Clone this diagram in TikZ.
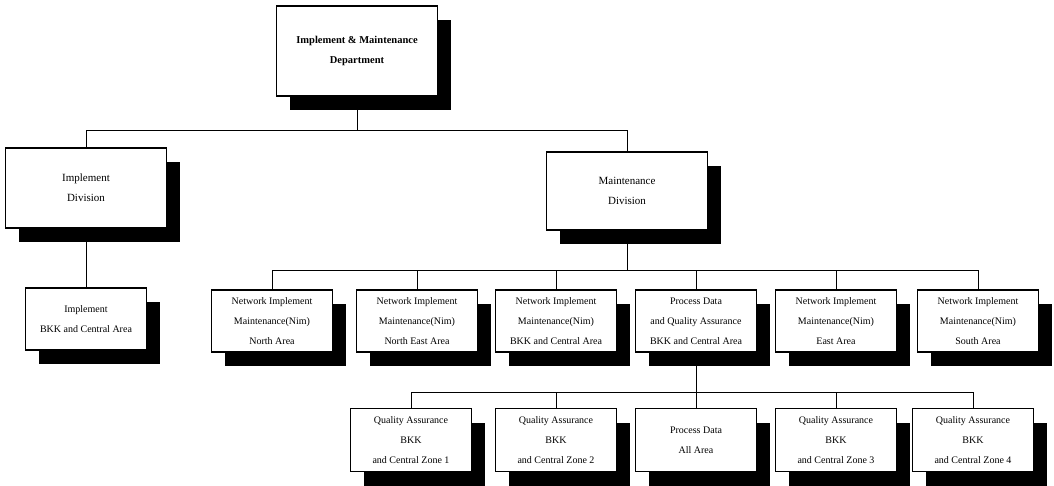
\documentclass[tikz,border=0pt]{standalone}
\usepackage{fontspec}
\setmainfont{Liberation Serif}
\usetikzlibrary{positioning, shadows, backgrounds}

\begin{document}
\begin{tikzpicture}[x=1pt, y=-1pt, font=\fontsize{10}{20}\selectfont,
      unit/.style={draw, line width=1.1pt, fill=white, align=center,
                   inner sep=1pt, minimum width=121pt, minimum height=62pt,
                   drop shadow={shadow xshift=13pt, shadow yshift=-14pt,
                                opacity=1, fill=black}},
      division/.style={unit, minimum width=161pt, minimum height=80pt,
                       font=\fontsize{11}{20}\selectfont},
      link/.style={draw, line width=0.9pt}]
    \useasboundingbox (0,0) rectangle (1054,486);
    % top and divisions
    \node[division, minimum height=90pt, font=\bfseries\fontsize{10.5}{20}\selectfont]
                                   (dept)    at (357,51)  {Implement \& Maintenance\\Department};
    \node[division]                (impdiv)  at (86,188)  {Implement\\Division};
    \node[division, minimum height=78pt] (maindiv) at (627,191) {Maintenance\\Division};
    \node[unit]                    (impbkk)  at (86,319)  {Implement\\BKK and Central Area};
    % maintenance units
    \node[unit] (nimN)   at (272,321) {Network Implement\\Maintenance(Nim)\\North Area};
    \node[unit] (nimNE)  at (417,321) {Network Implement\\Maintenance(Nim)\\North East Area};
    \node[unit] (nimBKK) at (556,321) {Network Implement\\Maintenance(Nim)\\BKK and Central Area};
    \node[unit] (pdqa)   at (696,321) {Process Data\\and Quality Assurance\\BKK and Central Area};
    \node[unit] (nimE)   at (836,321) {Network Implement\\Maintenance(Nim)\\East Area};
    \node[unit] (nimS)   at (978,321) {Network Implement\\Maintenance(Nim)\\South Area};
    % quality assurance units
    \node[unit, minimum height=63pt] (qa1)   at (411,440) {Quality Assurance\\BKK\\and Central Zone 1};
    \node[unit, minimum height=63pt] (qa2)   at (556,440) {Quality Assurance\\BKK\\and Central Zone 2};
    \node[unit, minimum height=63pt] (pdall) at (696,440) {Process Data\\All Area};
    \node[unit, minimum height=63pt] (qa3)   at (836,440) {Quality Assurance\\BKK\\and Central Zone 3};
    \node[unit, minimum height=63pt] (qa4)   at (973,440) {Quality Assurance\\BKK\\and Central Zone 4};
    % bus lines
    \coordinate (busA) at (357,130);
    \coordinate (busB) at (627,270);
    \coordinate (busC) at (696,392);
    \begin{scope}[on background layer]
      \draw[link] (dept) -- (busA) -| (impdiv);
      \draw[link] (busA) -| (maindiv);
      \draw[link] (impdiv) -- (impbkk);
      \draw[link] (maindiv) -- (busB);
      \foreach \n in {nimN, nimNE, nimBKK, pdqa, nimE, nimS}
        \draw[link] (busB) -| (\n);
      \draw[link] (pdqa) -- (busC);
      \foreach \n in {qa1, qa2, pdall, qa3, qa4}
        \draw[link] (busC) -| (\n);
    \end{scope}
  \end{tikzpicture}
\end{document}
